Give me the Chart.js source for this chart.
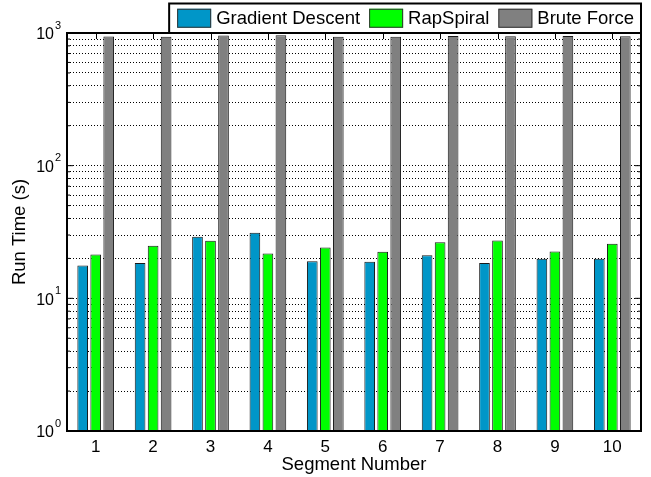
<!DOCTYPE html>
<html>
<head>
<meta charset="utf-8">
<script src="https://cdn.jsdelivr.net/npm/chart.js@4/dist/chart.umd.min.js"></script>
<style>
  html, body { margin: 0; padding: 0; background: #ffffff; }
  #wrap { width: 651px; height: 477px; }
</style>
</head>
<body>
<div id="wrap"><canvas id="c" width="651" height="477"></canvas></div>
<script>
// Run time per segment (seconds), log scale
const segments = ['1', '2', '3', '4', '5', '6', '7', '8', '9', '10'];
const gradientDescent = [17.7, 18.5, 29.1, 31.2, 19.0, 18.9, 21.1, 18.5, 19.9, 19.9];
const rapSpiral = [21.4, 24.9, 27.2, 21.8, 24.2, 22.4, 26.5, 27.3, 22.5, 25.8];
const bruteForce = [940, 935, 958, 962, 935, 935, 948, 945, 948, 945];

const seriesNames = ['Gradient Descent', 'RapSpiral', 'Brute Force'];
const seriesColors = ['#0096C8', '#00FF00', '#808080'];

// y-axis decade labels: base and exponent
const decadeValues = [1, 10, 100, 1000];
const decadeBase = '10';
const decadeExponents = ['0', '1', '2', '3'];

const FONT = '"Liberation Sans", Arial, Helvetica, sans-serif';
const INK = '#000000';

// Axes box, inward tick marks and superscript decade labels
const axesDecor = {
  id: 'axesDecor',
  afterDatasetsDraw(chart) {
    const { ctx, chartArea: a, scales: { x, y } } = chart;
    ctx.save();
    ctx.strokeStyle = INK;
    ctx.lineWidth = 1;
    // y ticks on both sides
    y.ticks.forEach(t => {
      const py = y.getPixelForValue(t.value);
      const len = t.major ? 6 : 3;
      ctx.beginPath();
      ctx.moveTo(a.left, py); ctx.lineTo(a.left + len, py);
      ctx.moveTo(a.right, py); ctx.lineTo(a.right - len, py);
      ctx.stroke();
    });
    // x ticks along the top edge
    segments.forEach((s, i) => {
      const px = Math.round(x.getPixelForValue(i)) + 0.5;
      ctx.beginPath();
      ctx.moveTo(px, a.top); ctx.lineTo(px, a.top + 6);
      ctx.stroke();
    });
    // box
    ctx.lineWidth = 2;
    ctx.strokeRect(a.left, a.top, a.right - a.left, a.bottom - a.top);

    // decade labels with superscript exponents
    ctx.fillStyle = INK;
    decadeValues.forEach((v, i) => {
      const py = y.getPixelForValue(v);
      ctx.font = '16px ' + FONT;
      ctx.textAlign = 'right';
      ctx.textBaseline = 'middle';
      ctx.fillText(decadeBase, a.left - 13, py + 2);
      ctx.font = '11px ' + FONT;
      ctx.textAlign = 'left';
      ctx.textBaseline = 'top';
      ctx.fillText(decadeExponents[i], a.left - 12, py - 13);
    });
    ctx.restore();
  }
};

// Boxed legend in the upper right corner
const boxedLegend = {
  id: 'boxedLegend',
  afterDraw(chart) {
    const { ctx, chartArea: a } = chart;
    ctx.save();
    ctx.font = '18.5px ' + FONT;
    const sw = 34, sh = 19, gapText = 5, gapItem = 9, padL = 8, padR = 7;
    const items = chart.data.datasets.map(d => ({
      text: d.label, color: d.backgroundColor, w: ctx.measureText(d.label).width
    }));
    let total = 0;
    items.forEach((it, i) => { total += sw + gapText + it.w + (i < items.length - 1 ? gapItem : 0); });
    const right = a.right;
    const left = right - padR - total - padL;
    const top = 3.5, bottom = 33;
    ctx.fillStyle = '#ffffff';
    ctx.fillRect(left, top, right - left, bottom - top);
    ctx.strokeStyle = INK;
    ctx.lineWidth = 2;
    ctx.strokeRect(left, top, right - left, bottom - top);
    const cy = (top + bottom) / 2;
    let x = left + padL;
    items.forEach(it => {
      ctx.fillStyle = it.color;
      ctx.fillRect(x, cy - sh / 2, sw, sh);
      ctx.lineWidth = 1;
      ctx.strokeStyle = '#333333';
      ctx.strokeRect(x + 0.5, cy - sh / 2 + 0.5, sw - 1, sh - 1);
      ctx.fillStyle = INK;
      ctx.textAlign = 'left';
      ctx.textBaseline = 'middle';
      ctx.fillText(it.text, x + sw + gapText, cy + 1);
      x += sw + gapText + it.w + gapItem;
    });
    ctx.restore();
  }
};

const makeSet = (i, values) => ({
  label: seriesNames[i],
  data: values,
  backgroundColor: seriesColors[i],
  borderColor: '#1a1a1a',
  borderWidth: 1,
  categoryPercentage: 0.68,
  barPercentage: 0.82
});

new Chart(document.getElementById('c'), {
  type: 'bar',
  data: {
    labels: segments,
    datasets: [makeSet(0, gradientDescent), makeSet(1, rapSpiral), makeSet(2, bruteForce)]
  },
  plugins: [axesDecor, boxedLegend],
  options: {
    responsive: false,
    devicePixelRatio: 1,
    animation: false,
    layout: { padding: { top: 33, right: 10, left: 0, bottom: 0 } },
    plugins: { legend: { display: false }, tooltip: { enabled: false } },
    scales: {
      x: {
        grid: { display: false, drawTicks: false },
        border: { display: false },
        ticks: { font: { family: FONT, size: 17 }, color: INK, padding: 6 },
        title: {
          display: true, text: 'Segment Number', color: INK,
          font: { family: FONT, size: 18.5 }, padding: { top: 0, bottom: 1 }
        },
        afterFit(s) { s.height = 46; }
      },
      y: {
        type: 'logarithmic',
        min: 1, max: 1000,
        grid: { color: INK, lineWidth: 1, drawTicks: false },
        border: { display: false, dash: [1, 2] },
        ticks: { autoSkip: false, callback: () => '' },
        title: {
          display: true, text: 'Run Time (s)', color: INK,
          font: { family: FONT, size: 18.5 }, padding: { top: 9, bottom: 0 }
        },
        afterBuildTicks(s) {
          const t = [];
          for (let e = 0; e < 3; e++) {
            for (let m = 1; m < 10; m++) t.push({ value: m * Math.pow(10, e), major: m === 1 });
          }
          t.push({ value: 1000, major: true });
          s.ticks = t;
        },
        afterFit(s) { s.width = 67; }
      }
    }
  }
});
</script>
</body>
</html>
